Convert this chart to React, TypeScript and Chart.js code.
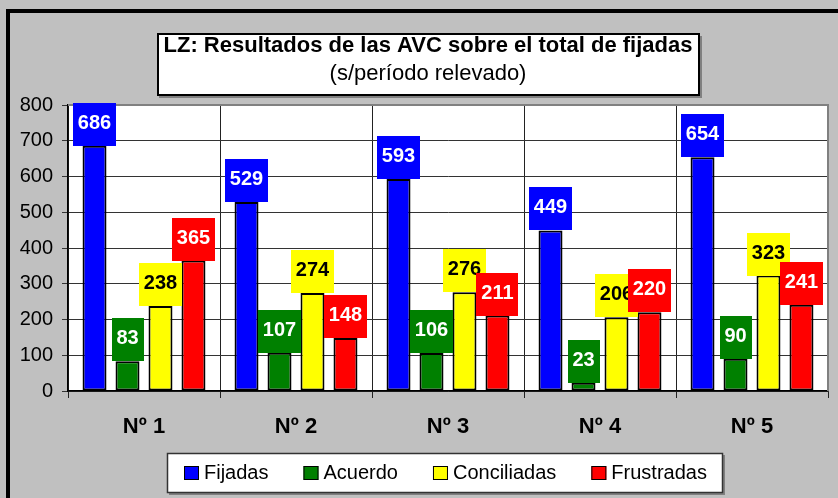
import React, { useEffect, useRef } from "react";
import { Chart, registerables } from "chart.js";

Chart.register(...registerables);

const categories = ["Nº 1", "Nº 2", "Nº 3", "Nº 4", "Nº 5"];
const seriesNames = ["Fijadas", "Acuerdo", "Conciliadas", "Frustradas"];
const fijadas = [686, 529, 593, 449, 654];
const acuerdo = [83, 107, 106, 23, 90];
const conciliadas = [238, 274, 276, 206, 323];
const frustradas = [365, 148, 211, 220, 241];
const yMin = 0;
const yMax = 800;
const yStep = 100;
const titleLine1 = "LZ: Resultados de las AVC sobre el total de fijadas";
const titleLine2 = "(s/período relevado)";

const seriesColors = ["#0000ff", "#008000", "#ffff00", "#ff0000"];
const labelTextColors = ["#ffffff", "#ffffff", "#000000", "#ffffff"];
const FONT = '"Liberation Sans", Arial, Helvetica, sans-serif';

const framePlugin = {
  id: "frame",
  beforeDraw(chart: any) {
    const { ctx, chartArea: a, width, height } = chart;
    ctx.save();
    ctx.fillStyle = "#c0c0c0";
    ctx.fillRect(0, 0, width, height);
    ctx.fillStyle = "#000";
    ctx.fillRect(6, 9, 4, height - 9);
    ctx.fillRect(6, 9, width - 6, 4);
    // plot background
    ctx.fillStyle = "#fff";
    ctx.fillRect(a.left, a.top, a.right - a.left, a.bottom - a.top);
    // title box
    ctx.fillStyle = "#808080";
    ctx.fillRect(159, 36, 543, 62);
    ctx.fillStyle = "#fff";
    ctx.fillRect(157, 33, 543, 63);
    ctx.strokeStyle = "#000";
    ctx.lineWidth = 2;
    ctx.strokeRect(158, 34, 541, 61);
    ctx.fillStyle = "#000";
    ctx.textAlign = "center";
    ctx.textBaseline = "alphabetic";
    ctx.font = `bold 22px ${FONT}`;
    ctx.fillText(titleLine1, 428, 52);
    ctx.font = `22px ${FONT}`;
    ctx.fillText(titleLine2, 428, 80);
    ctx.restore();
  },
  beforeDatasetsDraw(chart: any) {
    const { ctx, chartArea: a } = chart;
    ctx.save();
    ctx.strokeStyle = "#808080";
    ctx.lineWidth = 2;
    ctx.beginPath();
    ctx.moveTo(a.left, a.top);
    ctx.lineTo(a.right, a.top);
    ctx.lineTo(a.right, a.bottom);
    ctx.stroke();
    ctx.restore();
  },
  afterDatasetsDraw(chart: any) {
    const { ctx } = chart;
    ctx.save();
    ctx.font = `bold 20px ${FONT}`;
    ctx.textAlign = "center";
    ctx.textBaseline = "alphabetic";
    chart.data.datasets.forEach((ds: any, i: number) => {
      const meta = chart.getDatasetMeta(i);
      meta.data.forEach((bar: any, j: number) => {
        const text = String(ds.data[j]);
        const w = Math.round(ctx.measureText(text).width + 10);
        const h = 43;
        const x = bar.x;
        const y = bar.y;
        ctx.fillStyle = seriesColors[i];
        ctx.fillRect(Math.round(x - w / 2), Math.round(y - h), w, h);
        ctx.fillStyle = labelTextColors[i];
        ctx.fillText(text, x, y - 17);
      });
    });
    ctx.restore();
  },
  afterDraw(chart: any) {
    const { ctx } = chart;
    ctx.save();
    // legend box
    ctx.fillStyle = "#808080";
    ctx.fillRect(169, 455, 556, 40);
    ctx.fillStyle = "#fff";
    ctx.fillRect(167, 453, 556, 40);
    ctx.strokeStyle = "#333";
    ctx.lineWidth = 1.5;
    ctx.strokeRect(167.5, 453.5, 555, 39);
    ctx.font = `20px ${FONT}`;
    const sq = 15;
    const gapText = 5;
    const gapItem = 35;
    const names = chart.data.datasets.map((d: any) => d.label);
    const widths = names.map((n: string) => ctx.measureText(n).width);
    const total =
      widths.reduce((s: number, w: number) => s + w + sq + gapText, 0) +
      gapItem * (names.length - 1);
    let x = Math.round(445 - total / 2);
    ctx.textAlign = "left";
    ctx.textBaseline = "alphabetic";
    names.forEach((n: string, i: number) => {
      ctx.fillStyle = seriesColors[i];
      ctx.fillRect(x, 466, sq, 14);
      ctx.strokeStyle = "#000";
      ctx.lineWidth = 1;
      ctx.strokeRect(x + 0.5, 466.5, sq - 1, 13);
      ctx.fillStyle = "#000";
      ctx.fillText(n, x + sq + gapText, 479);
      x += sq + gapText + widths[i] + gapItem;
    });
    ctx.restore();
  },
};

export default function App() {
  const ref = useRef<HTMLCanvasElement | null>(null);
  useEffect(() => {
    document.body.style.margin = "0";
    if (!ref.current) return;
    const seriesData = [fijadas, acuerdo, conciliadas, frustradas];
    const chart = new Chart(ref.current, {
      type: "bar",
      data: {
        labels: categories,
        datasets: seriesNames.map((name, i) => ({
          label: name,
          data: seriesData[i],
          backgroundColor: seriesColors[i],
          borderColor: "#000",
          borderWidth: 2,
          borderSkipped: false,
          categoryPercentage: 0.868,
          barPercentage: 0.727,
        })),
      },
      options: {
        responsive: false,
        animation: false,
        layout: { padding: { left: 0, right: 10, top: 105, bottom: 0 } },
        plugins: {
          legend: { display: false },
          title: { display: false },
          tooltip: { enabled: false },
        },
        scales: {
          x: {
            offset: true,
            grid: { offset: true, color: "#222", lineWidth: 1, tickLength: 7 },
            border: { color: "#000", width: 1.5 },
            ticks: {
              color: "#000",
              padding: 16,
              font: { family: FONT, size: 22, weight: "bold" },
            },
            afterFit: (s: any) => {
              s.height = 107;
            },
          },
          y: {
            min: yMin,
            max: yMax,
            ticks: {
              stepSize: yStep,
              color: "#000",
              padding: 9,
              font: { family: FONT, size: 20 },
            },
            grid: { color: "#333", lineWidth: 1, tickLength: 6 },
            border: { color: "#000", width: 1.5 },
            afterFit: (s: any) => {
              s.width = 68;
            },
          },
        },
      },
      plugins: [framePlugin],
    });
    return () => chart.destroy();
  }, []);
  return (
    <canvas
      ref={ref}
      width={838}
      height={498}
      style={{ display: "block", width: 838, height: 498 }}
    />
  );
}
